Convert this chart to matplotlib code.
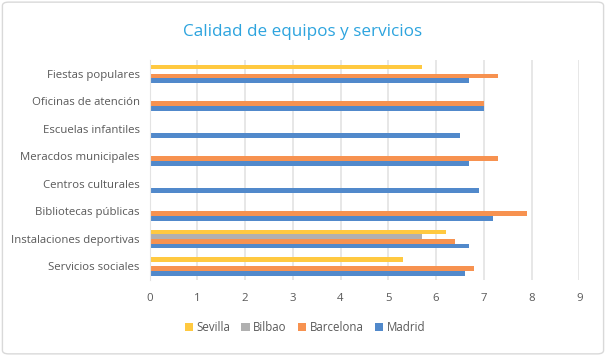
import numpy as np
import matplotlib.pyplot as plt
from matplotlib.patches import FancyBboxPatch

plt.rcParams['font.family'] = ['Open Sans', 'DejaVu Sans']

# categorias de abajo a arriba
categorias = ["Servicios sociales", "Instalaciones deportivas", "Bibliotecas públicas",
              "Centros culturales", "Meracdos municipales", "Escuelas infantiles",
              "Oficinas de atención", "Fiestas populares"]
madrid = [6.6, 6.7, 7.2, 6.9, 6.7, 6.5, 7.0, 6.7]
barcelona = [6.8, 6.4, 7.9, 0, 7.3, 0, 7.0, 7.3]
bilbao = [0, 5.7, 0, 0, 0, 0, 0, 0]
sevilla = [5.3, 6.2, 0, 0, 0, 0, 0, 5.7]
series = ["Madrid", "Barcelona", "Bilbao", "Sevilla"]
colores = ["#5189CB", "#F79250", "#B0B0B0", "#FFC940"]
xticks = list(range(10))

fig = plt.figure(figsize=(6.06, 3.56), dpi=100)
fig.patches.append(FancyBboxPatch((0.004, 0.006), 0.992, 0.988, boxstyle="round,pad=0,rounding_size=0.01",
                                  transform=fig.transFigure, fill=False, edgecolor="#D9D9D9", lw=1))
ax = fig.add_axes([0.2467, 0.2128, 0.7093, 0.618])

y = np.arange(len(categorias))
h = 0.164
datos = [madrid, barcelona, bilbao, sevilla]
for i, (nombre, vals, c) in enumerate(zip(series, datos, colores)):
    ax.barh(y + (i - 1.5) * h, vals, height=h, color=c, label=nombre)

ax.set_xlim(0, 9)
ax.set_ylim(-0.5, len(categorias) - 0.5)
ax.set_xticks(xticks)
ax.set_yticks(y)
ax.set_yticklabels(categorias)
ax.tick_params(length=0, labelsize=8.2, colors="#595959", pad=7)
ax.tick_params(axis='x', pad=9)
ax.grid(axis='x', color="#E3E3E3", lw=1.2)
ax.set_axisbelow(True)
for s in ["top", "right", "bottom"]:
    ax.spines[s].set_visible(False)
ax.spines["left"].set_color("#E3E3E3")

fig.text(0.5, 0.91, "Calidad de equipos y servicios", ha="center", va="center",
         fontsize=12.3, color="#2DA4DE")

handles, labels = ax.get_legend_handles_labels()
fig.legend(handles[::-1], labels[::-1], loc="center", bbox_to_anchor=(0.503, 0.081), ncol=4,
           frameon=False, fontsize=8.3, handlelength=0.7, handleheight=0.7, handletextpad=0.3,
           columnspacing=1.0, labelcolor="#595959")

fig.savefig("out.png", dpi=100, facecolor="white")
